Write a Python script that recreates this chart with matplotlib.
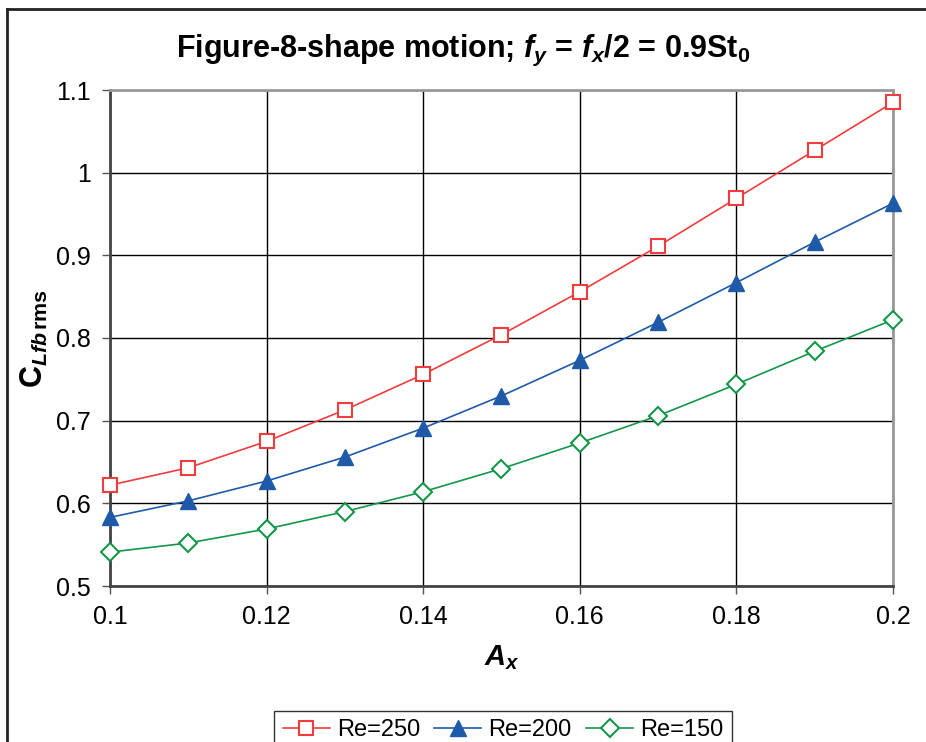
import matplotlib.pyplot as plt
from matplotlib.lines import Line2D

plt.rcParams["font.family"] = ["Liberation Sans", "DejaVu Sans"]
plt.rcParams["mathtext.fontset"] = "custom"
plt.rcParams["mathtext.rm"] = "Liberation Sans:bold"
plt.rcParams["mathtext.it"] = "Liberation Sans:italic:bold"
plt.rcParams["mathtext.bf"] = "Liberation Sans:bold"

# Data
amp_x = [0.10, 0.11, 0.12, 0.13, 0.14, 0.15, 0.16, 0.17, 0.18, 0.19, 0.20]
re250 = [0.622, 0.643, 0.675, 0.713, 0.756, 0.804, 0.856, 0.911, 0.969, 1.027, 1.085]
re200 = [0.583, 0.603, 0.627, 0.656, 0.691, 0.730, 0.773, 0.819, 0.867, 0.916, 0.963]
re150 = [0.541, 0.552, 0.569, 0.590, 0.614, 0.642, 0.673, 0.706, 0.744, 0.784, 0.822]

x_ticks = [0.1, 0.12, 0.14, 0.16, 0.18, 0.2]
x_labels = ["0.1", "0.12", "0.14", "0.16", "0.18", "0.2"]
y_ticks = [0.5, 0.6, 0.7, 0.8, 0.9, 1.0, 1.1]
y_labels = ["0.5", "0.6", "0.7", "0.8", "0.9", "1", "1.1"]

fig = plt.figure(figsize=(9.26, 7.42), dpi=100)
ax = fig.add_axes([110 / 926, 1 - 586 / 742, (893 - 110) / 926, (586 - 90) / 742])

red = "#f03c3c"
blue = "#1f5aa8"
green = "#14964a"

ax.plot(amp_x, re250, color=red, lw=1.2, marker="s", ms=10, mfc="white",
        mec=red, mew=1.5, label="Re=250", clip_on=False, zorder=3)
ax.plot(amp_x, re200, color=blue, lw=1.2, marker="^", ms=11, mfc=blue,
        mec=blue, label="Re=200", clip_on=False, zorder=3)
ax.plot(amp_x, re150, color=green, lw=1.2, marker="D", ms=9, mfc="white",
        mec=green, mew=1.5, label="Re=150", clip_on=False, zorder=3)

ax.set_xlim(0.1, 0.2)
ax.set_ylim(0.5, 1.1)
ax.set_xticks(x_ticks)
ax.set_xticklabels(x_labels)
ax.set_yticks(y_ticks)
ax.set_yticklabels(y_labels)
ax.tick_params(labelsize=18, length=6, width=1, color="#555555", pad=8)

ax.grid(True, color="black", lw=1)
ax.set_axisbelow(True)
for side in ["left", "bottom"]:
    ax.spines[side].set_color("#444444")
    ax.spines[side].set_linewidth(2)
for side in ["top", "right"]:
    ax.spines[side].set_color("#999999")
    ax.spines[side].set_linewidth(2)

ax.set_xlabel(r"$A_x$", fontsize=21, labelpad=10)
ax.set_ylabel(r"$\mathbf{C}_{Lfb\,\mathbf{rms}}$", fontsize=22, labelpad=4)
fig.text(0.5, 1 - 50 / 742, r"Figure-8-shape motion; $f_y$ = $f_x$/2 = 0.9St$_\mathbf{0}$",
         ha="center", va="center", fontsize=22, fontweight="bold")

leg = fig.legend(loc="upper center", bbox_to_anchor=(503 / 926, 1 - 699 / 742),
                 ncol=3, fontsize=17, frameon=True, fancybox=False,
                 edgecolor="black", handlelength=2.0, columnspacing=0.6,
                 handletextpad=0.3, borderpad=0.35)
leg.get_frame().set_linewidth(1)

# figure border (left and top edges visible)
fig.add_artist(Line2D([7 / 926, 7 / 926], [0, 1 - 9 / 742], color="#222222", lw=2))
fig.add_artist(Line2D([7 / 926, 1], [1 - 9 / 742, 1 - 9 / 742], color="#222222", lw=2))

fig.savefig("out.png", dpi=100)
